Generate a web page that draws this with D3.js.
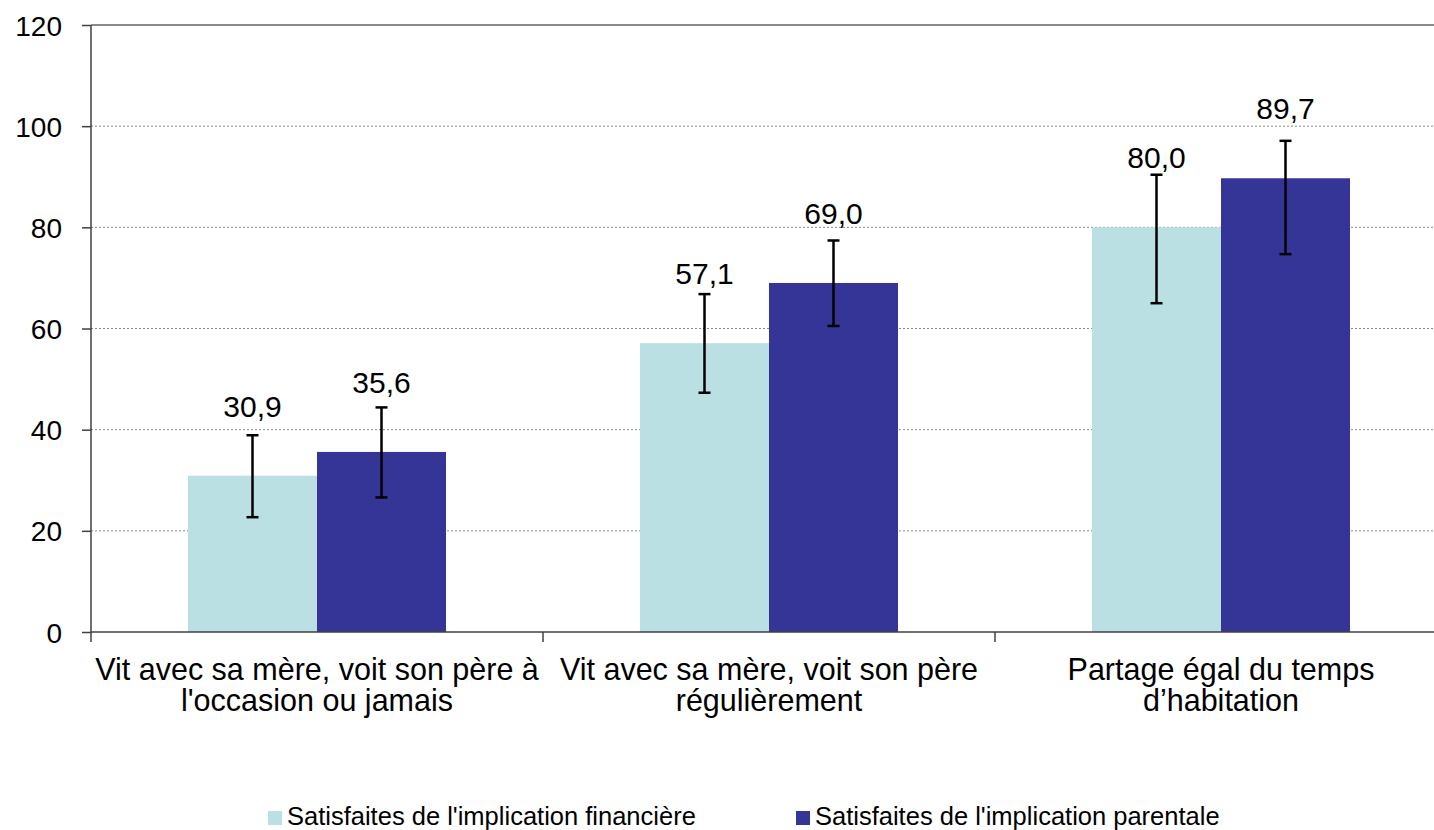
<!DOCTYPE html>
<html>
<head>
<meta charset="utf-8">
<script src="https://cdn.jsdelivr.net/npm/d3@7"></script>
<style>
  html, body { margin: 0; padding: 0; background: #fff; }
  svg { display: block; font-family: "Liberation Sans", Arial, sans-serif; }
</style>
</head>
<body>
<svg id="chart" width="1434" height="830"></svg>
<script>
// ---- Data ----
const categories = [
  ["Vit avec sa mère, voit son père à", "l'occasion ou jamais"],
  ["Vit avec sa mère, voit son père", "régulièrement"],
  ["Partage égal du temps", "d’habitation"]
];
const seriesNames = ["Satisfaites de l'implication financière", "Satisfaites de l'implication parentale"];
const financiere = [30.9, 57.1, 80.0];
const parentale = [35.6, 69.0, 89.7];
const financiereLow = [22.7, 47.3, 65.0];
const financiereHigh = [38.9, 66.8, 90.4];
const parentaleLow = [26.6, 60.5, 74.7];
const parentaleHigh = [44.4, 77.4, 97.1];
const yTicks = [0, 20, 40, 60, 80, 100, 120];
const colors = ["#BAE0E3", "#353597"];

// ---- Layout ----
const svg = d3.select("#chart");
const mLeft = 91, mRight = 1447, mTop = 25, mBottom = 632;

const x = d3.scaleBand().domain(d3.range(categories.length)).range([mLeft, mRight]).padding(0);
const bw = x.bandwidth();
const barW = 129;
const xs = d3.scaleBand().domain([0, 1]).range([bw / 2 - barW, bw / 2 + barW]).padding(0);
const y = d3.scaleLinear().domain([0, 120]).range([mBottom, mTop]);

const series = [
  { name: seriesNames[0], values: financiere, lo: financiereLow, hi: financiereHigh, color: colors[0] },
  { name: seriesNames[1], values: parentale, lo: parentaleLow, hi: parentaleHigh, color: colors[1] }
];

// gridlines
svg.append("g").selectAll("line").data(yTicks.filter(t => t > 0)).join("line")
  .attr("x1", mLeft).attr("x2", mRight)
  .attr("y1", d => y(d)).attr("y2", d => y(d))
  .attr("stroke", "#8a8a8a")
  .attr("stroke-width", d => d === 120 ? 2 : 1)
  .attr("stroke-dasharray", d => d === 120 ? null : "2,2");

// bars
series.forEach((s, si) => {
  const g = svg.append("g");
  g.selectAll("rect").data(s.values).join("rect")
    .attr("x", (d, i) => x(i) + xs(si))
    .attr("y", d => y(d))
    .attr("width", xs.bandwidth())
    .attr("height", d => y(0) - y(d))
    .attr("fill", s.color);
});

// error bars
series.forEach((s, si) => {
  const g = svg.append("g").attr("stroke", "#000").attr("stroke-width", 2.5);
  s.values.forEach((v, i) => {
    const cx = x(i) + xs(si) + xs.bandwidth() / 2;
    g.append("line").attr("x1", cx).attr("x2", cx).attr("y1", y(s.lo[i])).attr("y2", y(s.hi[i]));
    g.append("line").attr("x1", cx - 6).attr("x2", cx + 6).attr("y1", y(s.lo[i])).attr("y2", y(s.lo[i]));
    g.append("line").attr("x1", cx - 6).attr("x2", cx + 6).attr("y1", y(s.hi[i])).attr("y2", y(s.hi[i]));
  });
});

// value labels
series.forEach((s, si) => {
  svg.append("g").selectAll("text").data(s.values).join("text")
    .attr("x", (d, i) => x(i) + xs(si) + xs.bandwidth() / 2)
    .attr("y", d => y(d) - 59)
    .attr("text-anchor", "middle")
    .attr("font-size", 30)
    .attr("fill", "#000")
    .text(d => d.toFixed(1).replace(".", ","));
});

// y axis
const yAxis = svg.append("g").attr("transform", `translate(${mLeft},0)`)
  .call(d3.axisLeft(y).tickValues(yTicks).tickSize(9).tickPadding(20).tickFormat(d3.format("d")));
yAxis.select(".domain").attr("stroke", "#404040").attr("stroke-width", 1.5).attr("d", `M0,${mTop}V${mBottom + 10}`);
yAxis.selectAll(".tick line").attr("stroke", "#404040").attr("stroke-width", 1.5);
yAxis.selectAll(".tick text").attr("font-size", 28).attr("fill", "#000")
  .attr("font-family", "Liberation Sans, Arial, sans-serif").attr("dy", "0.36em");

// x axis
const xAxisG = svg.append("g");
xAxisG.append("line").attr("x1", mLeft).attr("x2", mRight).attr("y1", mBottom).attr("y2", mBottom)
  .attr("stroke", "#404040").attr("stroke-width", 1.5);
xAxisG.selectAll("line.tk").data(d3.range(1, categories.length + 1)).join("line").attr("class", "tk")
  .attr("x1", i => mLeft + i * bw).attr("x2", i => mLeft + i * bw)
  .attr("y1", mBottom).attr("y2", mBottom + 10)
  .attr("stroke", "#404040").attr("stroke-width", 1.5);

const xl = svg.append("g").selectAll("text").data(categories).join("text")
  .attr("text-anchor", "middle").attr("font-size", 30.5).attr("fill", "#000");
xl.each(function(lines, i) {
  const t = d3.select(this);
  lines.forEach((ln, k) => {
    t.append("tspan").attr("x", x(i) + bw / 2).attr("y", 680 + k * 31).text(ln);
  });
});

// legend
const legendX = [268, 796];
const lg = svg.append("g");
series.forEach((s, si) => {
  lg.append("rect").attr("x", legendX[si]).attr("y", 811).attr("width", 14).attr("height", 14).attr("fill", s.color);
  lg.append("text").attr("x", legendX[si] + 19).attr("y", 825).attr("font-size", 25.5).attr("fill", "#000").text(s.name);
});
</script>
</body>
</html>
